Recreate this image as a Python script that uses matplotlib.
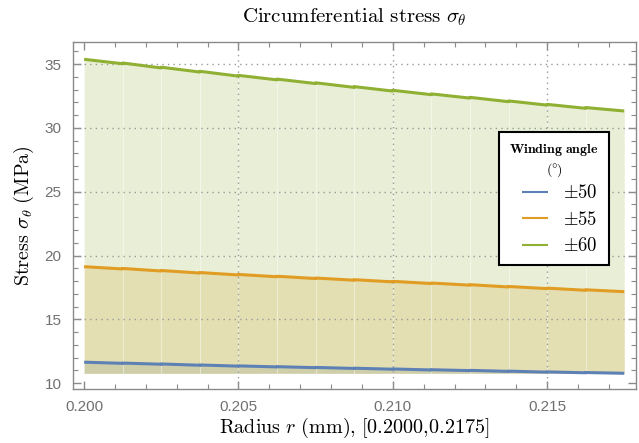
import numpy as np
import matplotlib.pyplot as plt
from matplotlib.ticker import MultipleLocator, FormatStrFormatter

plt.rcParams['mathtext.fontset'] = 'cm'
plt.rcParams['font.family'] = ['Liberation Sans', 'DejaVu Sans']

# 14 composite layers between the inner and outer radius (mm)
r_bounds = [0.2000, 0.20125, 0.2025, 0.20375, 0.2050, 0.20625, 0.2075, 0.20875,
            0.2100, 0.21125, 0.2125, 0.21375, 0.2150, 0.21625, 0.2175]

# stress at the inner / outer face of each layer (MPa)
s50_in = [11.65, 11.58, 11.51, 11.43, 11.36, 11.30, 11.24, 11.18, 11.12, 11.06, 11.01, 10.95, 10.89, 10.84]
s50_out = [11.56, 11.49, 11.41, 11.34, 11.28, 11.22, 11.16, 11.10, 11.04, 10.99, 10.93, 10.87, 10.82, 10.78]
s55_in = [19.13, 18.99, 18.83, 18.67, 18.52, 18.38, 18.24, 18.11, 17.98, 17.85, 17.72, 17.58, 17.45, 17.32]
s55_out = [18.95, 18.79, 18.63, 18.48, 18.34, 18.20, 18.07, 17.94, 17.81, 17.68, 17.54, 17.41, 17.28, 17.17]
s60_in = [35.37, 35.08, 34.75, 34.43, 34.11, 33.82, 33.53, 33.23, 32.94, 32.66, 32.39, 32.11, 31.84, 31.59]
s60_out = [35.02, 34.69, 34.37, 34.05, 33.76, 33.47, 33.17, 32.88, 32.60, 32.33, 32.05, 31.78, 31.53, 31.32]

angles = ['$\\pm50$', '$\\pm55$', '$\\pm60$']
colors = ['#5e81b5', '#e19c24', '#8fb032']


def layer_curve(s_in, s_out):
    xs, ys = [], []
    for k in range(len(s_in)):
        xs += [r_bounds[k], r_bounds[k + 1]]
        ys += [s_in[k], s_out[k]]
    return np.array(xs), np.array(ys)


series = [layer_curve(s50_in, s50_out),
          layer_curve(s55_in, s55_out),
          layer_curve(s60_in, s60_out)]
base = min(s50_out)

fig = plt.figure(figsize=(6.39, 4.43), dpi=100)
ax = fig.add_axes([0.1138, 0.1219, 0.8815, 0.7826])

# filled regions, one polygon per layer so the seams show
for (xs, ys), c in zip(series, colors):
    for k in range(len(r_bounds) - 1):
        ax.fill_between(xs[2 * k:2 * k + 2], base, ys[2 * k:2 * k + 2],
                        color=c, alpha=0.2, lw=0, zorder=1)

top_xs, top_ys = series[2]
for k in range(1, len(r_bounds) - 1):
    ax.plot([r_bounds[k]] * 2, [base, top_ys[2 * k]], color='white',
            lw=0.7, alpha=0.45, zorder=1.5)

for (xs, ys), c, lab in zip(series, colors, angles):
    ax.plot(xs, ys, color=c, lw=2.2, label=lab, zorder=3,
            solid_capstyle='butt')

ax.set_xlim(0.19963, 0.21788)
ax.set_ylim(9.55, 36.70)

ax.xaxis.set_major_locator(MultipleLocator(0.005))
ax.xaxis.set_minor_locator(MultipleLocator(0.001))
ax.xaxis.set_major_formatter(FormatStrFormatter('%.3f'))
ax.yaxis.set_major_locator(MultipleLocator(5))
ax.yaxis.set_minor_locator(MultipleLocator(1))

frame_gray = '#8a8a8a'
for sp in ax.spines.values():
    sp.set_color(frame_gray)
    sp.set_linewidth(1.0)
ax.tick_params(which='both', direction='in', top=True, right=True,
               color=frame_gray, labelcolor='#707070', labelsize=11)
ax.tick_params(which='major', length=6, width=1.0, pad=8)
ax.tick_params(which='minor', length=3.5, width=0.8)

# dotted grid
for gx in [0.205, 0.210, 0.215]:
    ax.axvline(gx, color='#9a9a9a', lw=1.0, ls=(0, (1, 3)), zorder=2)
for gy in [15, 20, 25, 30, 35]:
    ax.axhline(gy, color='#9a9a9a', lw=1.0, ls=(0, (1, 3)), zorder=2)

ax.set_title('$\\mathrm{Circumferential\\ stress}\\ \\sigma_\\theta$',
             fontsize=15, pad=14)
ax.set_xlabel('$\\mathrm{Radius}\\ r\\ \\mathrm{(mm)}{,}\\ [0.2000{,}0.2175]$',
              fontsize=14.5, va='bottom')
ax.xaxis.set_label_coords(0.5, -0.148)
ax.set_ylabel('$\\mathrm{Stress}\\ \\sigma_\\theta\\ \\mathrm{(MPa)}$',
              fontsize=14.5, labelpad=6)

leg = ax.legend(loc='upper left', bbox_to_anchor=(0.757, 0.741),
                title='$\\mathbf{Winding\\ angle}$\n$\\mathrm{(\\degree)}$',
                fontsize=13.5, title_fontsize=10, fancybox=False, framealpha=1,
                edgecolor='black', handlelength=1.95, handletextpad=0.8,
                borderpad=0.55, labelspacing=0.45, borderaxespad=0)
leg.get_frame().set_linewidth(1.5)
leg.get_title().set_multialignment('center')
leg._legend_box.sep = 4
for h in leg.get_lines():
    h.set_linewidth(1.5)
    xd = np.asarray(h.get_xdata(), dtype=float)
    h.set_xdata(np.linspace(xd[0] + 8, xd[-1], len(xd)))

fig.savefig('out.png', dpi=100)
